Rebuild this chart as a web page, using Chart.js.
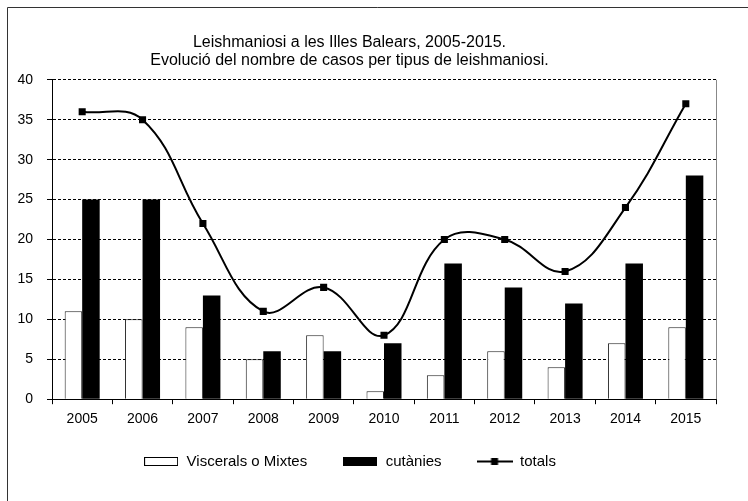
<!DOCTYPE html>
<html>
<head>
<meta charset="utf-8">
<script src="https://cdn.jsdelivr.net/npm/chart.js@4.4.1/dist/chart.umd.min.js"></script>
<style>
  html, body { margin: 0; padding: 0; background: #fff; }
  #wrap { width: 748px; height: 501px; }
</style>
</head>
<body>
<div id="wrap"><canvas id="grafic" width="748" height="501"></canvas></div>
<script>
// ── Dades ──
const anys      = ['2005', '2006', '2007', '2008', '2009', '2010', '2011', '2012', '2013', '2014', '2015'];
const viscerals = [11, 10, 9, 5, 8, 1, 3, 6, 4, 7, 9];
const cutanies  = [25, 25, 13, 6, 6, 7, 17, 14, 12, 17, 28];
const totals    = [36, 35, 22, 11, 14, 8, 20, 20, 16, 24, 37];
const yTicks    = [0, 5, 10, 15, 20, 25, 30, 35, 40];
const titol     = ['Leishmaniosi a les Illes Balears, 2005-2015.', 'Evolució del nombre de casos per tipus de leishmaniosi.'];
const etiquetes = ['Viscerals o Mixtes', 'cutànies', 'totals'];

const FONT = "'Liberation Sans', Arial, sans-serif";

// legend markers (Excel style)
function marca(w, h, fn) {
  const c = document.createElement('canvas');
  c.width = w; c.height = h;
  fn(c.getContext('2d'));
  return c;
}
const marques = [
  marca(34, 9, g => { g.fillStyle = '#fff'; g.fillRect(0, 0, 34, 9); g.strokeStyle = '#000'; g.lineWidth = 1; g.strokeRect(0.5, 0.5, 33, 8); }),
  marca(34, 9, g => { g.fillStyle = '#000'; g.fillRect(0, 0, 34, 9); }),
  marca(36, 9, g => { g.fillStyle = '#000'; g.fillRect(0, 3.5, 36, 2); g.fillRect(14.5, 1, 7, 7); }),
];

// outer frame + plot right border + recentre title/legend like Excel
const marc = {
  id: 'marc',
  afterLayout(chart) {
    const R = 691;
    for (const b of [chart.titleBlock, chart.legend]) {
      if (!b) continue;
      b.right = R;
      b.width = R - b.left;
    }
    if (chart.legend) {
      chart.legend.top -= 16;
      chart.legend.bottom -= 16;
    }
  },
  beforeDraw(chart) {
    const ctx = chart.ctx;
    ctx.save();
    ctx.fillStyle = '#fff';
    ctx.fillRect(0, 0, chart.width, chart.height);
    ctx.strokeStyle = '#333';
    ctx.lineWidth = 1;
    ctx.beginPath();
    ctx.moveTo(7.5, chart.height);
    ctx.lineTo(7.5, 7.5);
    ctx.lineTo(chart.width, 7.5);
    ctx.stroke();
    ctx.restore();
  },
  afterDatasetsDraw(chart) {
    const { ctx, chartArea: a } = chart;
    ctx.save();
    ctx.strokeStyle = '#888';
    ctx.lineWidth = 1;
    ctx.beginPath();
    ctx.moveTo(Math.round(a.right) + 0.5, a.top);
    ctx.lineTo(Math.round(a.right) + 0.5, a.bottom);
    ctx.stroke();
    ctx.restore();
  }
};

new Chart(document.getElementById('grafic'), {
  type: 'bar',
  data: {
    labels: anys,
    datasets: [
      { label: etiquetes[0], data: viscerals, backgroundColor: '#fff', borderColor: '#222', borderWidth: 1, order: 1,
        categoryPercentage: 0.58, barPercentage: 1 },
      { label: etiquetes[1], data: cutanies, backgroundColor: '#000', borderColor: '#000', borderWidth: 0, order: 1,
        categoryPercentage: 0.58, barPercentage: 1 },
      { type: 'line', label: etiquetes[2], data: totals, borderColor: '#000', borderWidth: 2, tension: 0.4,
        pointStyle: 'rect', pointRadius: 5, pointBackgroundColor: '#000', pointBorderColor: '#000', pointBorderWidth: 0,
        fill: false, order: 0 },
    ],
  },
  options: {
    responsive: false,
    animation: false,
    devicePixelRatio: 1,
    layout: { padding: { left: 8, right: 32, top: 8, bottom: 6 } },
    plugins: {
      tooltip: { enabled: false },
      title: {
        display: true,
        text: titol,
        color: '#000',
        font: { family: FONT, size: 16, weight: 'normal', lineHeight: 1.15 },
        padding: { top: 25, bottom: 10 },
      },
      legend: {
        position: 'bottom',
        labels: {
          color: '#000',
          font: { family: FONT, size: 15 },
          padding: 35,
          usePointStyle: true,
          pointStyleWidth: 36,
          sort: (a, b) => a.datasetIndex - b.datasetIndex,
          generateLabels: chart => Chart.defaults.plugins.legend.labels.generateLabels(chart)
            .map(it => ({ ...it, pointStyle: marques[it.datasetIndex] })),
        },
      },
    },
    scales: {
      x: {
        offset: true,
        grid: { display: true, drawOnChartArea: false, drawTicks: true, tickLength: 5, color: '#000', offset: true },
        border: { color: '#000', width: 1 },
        ticks: { color: '#000', font: { family: FONT, size: 14 }, padding: 7, maxRotation: 0 },
      },
      y: {
        min: 0, max: 40,
        afterBuildTicks: s => { s.ticks = yTicks.map(v => ({ value: v })); },
        grid: { color: '#000', lineWidth: 1, tickLength: 5 },
        border: { color: '#000', width: 1, dash: [3, 2] },
        ticks: { color: '#000', font: { family: FONT, size: 14 }, padding: 14 },
        afterFit: s => { s.width = 44; },
      },
    },
  },
  plugins: [marc],
});
</script>
</body>
</html>
